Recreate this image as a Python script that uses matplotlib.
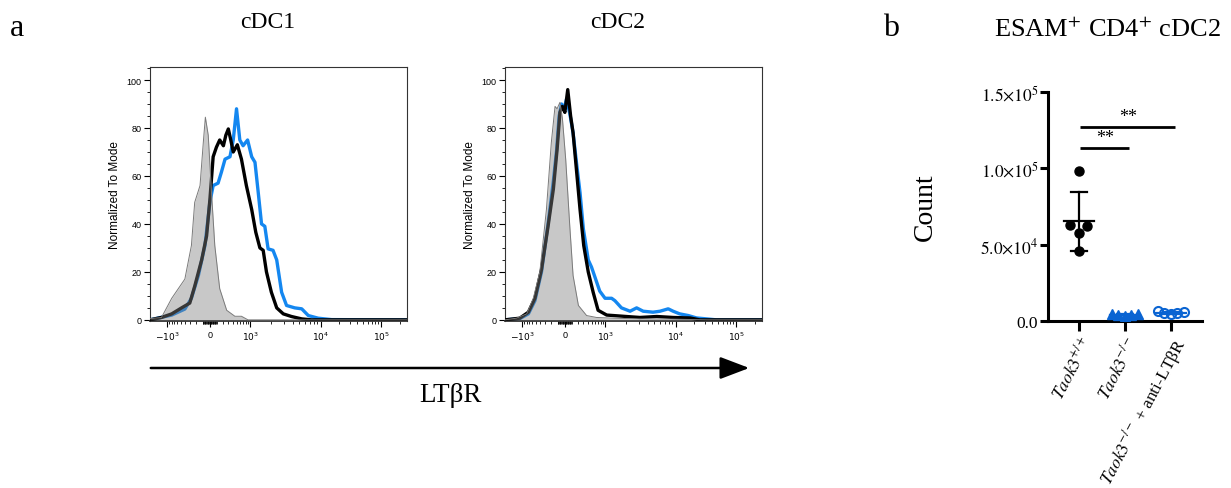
import numpy as np
import matplotlib.pyplot as plt
from matplotlib.patches import FancyArrowPatch
from matplotlib.ticker import MultipleLocator, FixedLocator

plt.rcParams['mathtext.fontset'] = 'stix'
SERIF = 'Liberation Serif'
SANS = 'Liberation Sans'

# ---- panel a: LTbR histograms, x in biexponential display units, y in % of mode
cdc1_iso_x = [-1.46, -1.18, -0.93, -0.77, -0.61, -0.45, -0.37, -0.24, -0.16, -0.11, -0.04,
              0.04, 0.12, 0.24, 0.41, 0.61, 0.77, 0.93, 4.80]
cdc1_iso_y = [0.5, 1, 9, 13, 17, 31, 49, 56, 74, 84.5, 77, 53, 31, 13, 4, 1.5, 1.5, 0, 0]

cdc1_wt_x = [-1.46, -1.18, -0.93, -0.69, -0.49, -0.37, -0.20, -0.08, 0, 0.08, 0.16, 0.24,
             0.33, 0.39, 0.45, 0.51, 0.57, 0.67, 0.77, 0.89, 1.02, 1.12, 1.22, 1.30, 1.38,
             1.50, 1.63, 1.79, 1.99, 2.24, 2.48, 4.80]
cdc1_wt_y = [0, 1, 2.5, 5, 7, 14, 25, 35, 50, 68, 72, 75, 72.6, 77, 79.6, 75, 70, 73, 67,
             56, 46, 36.5, 30, 29, 20, 11.5, 5, 2.5, 1.4, 0.4, 0, 0]

cdc1_ko_x = [-1.46, -0.93, -0.61, -0.45, -0.28, -0.12, 0, 0.08, 0.20, 0.28, 0.37, 0.49,
             0.57, 0.65, 0.73, 0.81, 0.92, 1.02, 1.10, 1.18, 1.26, 1.34, 1.42, 1.54, 1.63,
             1.75, 1.87, 2.07, 2.24, 2.40, 2.64, 2.97, 4.80]
cdc1_ko_y = [0, 2, 4.5, 9, 18.5, 31, 49, 56, 57, 61.5, 67, 68, 75, 88, 75, 72.6, 75, 68,
             65.7, 53, 40, 39, 29.6, 29, 25, 11.5, 6, 5, 4.6, 1.8, 0.7, 0.1, 0]

cdc2_iso_x = [-1.46, -1.18, -0.93, -0.77, -0.61, -0.45, -0.33, -0.24, -0.19, -0.12, -0.06,
              0.02, 0.12, 0.20, 0.33, 0.53, 0.77, 1.18, 1.83, 2.64, 3.46, 4.80]
cdc2_iso_y = [0, 0.7, 2.5, 9, 20, 46, 74, 89, 88, 90.7, 84, 67, 39, 18.5, 6, 1.8, 1, 0.7,
              0.4, 0.3, 0, 0]

cdc2_wt_x = [-1.46, -1.10, -0.89, -0.73, -0.57, -0.41, -0.28, -0.19, -0.12, -0.06, 0, 0.07,
             0.14, 0.20, 0.28, 0.37, 0.46, 0.57, 0.69, 0.81, 1.02, 1.42, 1.83, 2.24, 2.64,
             3.05, 3.29, 4.80]
cdc2_wt_y = [0, 0.7, 3.2, 9, 21, 39, 54.6, 71, 86.5, 89, 86.5, 96, 85, 78, 63, 46, 31, 20,
             11.5, 4, 2, 1.5, 1, 1.4, 1, 0.8, 0, 0]

cdc2_ko_x = [-1.46, -1.10, -0.89, -0.73, -0.57, -0.41, -0.28, -0.20, -0.14, -0.08, -0.02,
             0.04, 0.12, 0.20, 0.28, 0.37, 0.45, 0.57, 0.65, 0.73, 0.85, 0.98, 1.14, 1.22,
             1.38, 1.59, 1.75, 1.91, 2.15, 2.32, 2.52, 2.64, 2.80, 3.01, 3.21, 3.46, 3.70, 4.80]
cdc2_ko_y = [0, 0.5, 2.5, 8, 20, 40, 58, 71, 85, 90, 88, 92, 86, 78, 66, 53, 38, 25, 22,
             18, 12, 9, 9, 8, 5, 3.6, 5, 3.6, 3.2, 3.6, 4.6, 3.6, 2.5, 1.8, 0.8, 0.4, 0, 0]

hist_titles = ['cDC1', 'cDC2']
hist_tick_pos = [-1.05, 0, 0.98, 2.7, 4.18]
hist_tick_lab = [r'$-10^{3}$', '0', r'$10^{3}$', r'$10^{4}$', r'$10^{5}$']

# ---- panel b: ESAM+ CD4+ cDC2 counts
groups = [r'$\mathit{Taok3}^{+/+}$', r'$\mathit{Taok3}^{-/-}$',
          r'$\mathit{Taok3}^{-/-}$ + anti-LTβR']
wt_counts = [98000, 62400, 62700, 57400, 46000]
ko_counts = [3300, 3700, 4000, 4300, 4700]
ko_ab_counts = [4500, 4900, 5300, 5700, 6100]
sig_pairs = [(0, 1), (0, 2)]
sig_heights = [113400, 127400]
sig_labels = ['**', '**']

BLUE_H = '#1487f0'
BLUE_B = '#0a64d2'


def biex(v):
    v = np.asarray(v, float)
    out = np.empty_like(v)
    small = np.abs(v) <= 1000
    s = v[small]
    out[small] = np.arcsinh(s / 300) / np.arcsinh(1000 / 300) * np.where(s < 0, 1.05, 0.98)
    big = v > 1000
    out[big] = np.interp(np.log10(v[big]), [3, 4, 5, 6], [0.98, 2.7, 4.18, 5.66])
    return out


minor_vals = np.concatenate([np.arange(10, 100, 10), np.arange(100, 1000, 100)])
minor_vals = np.concatenate([minor_vals, -minor_vals, np.arange(2000, 10000, 1000),
                             np.arange(20000, 100000, 10000), np.arange(200000, 300000, 100000)])

fig = plt.figure(figsize=(12.31, 4.89), dpi=100)

hist_sets = [(cdc1_iso_x, cdc1_iso_y, cdc1_wt_x, cdc1_wt_y, cdc1_ko_x, cdc1_ko_y),
             (cdc2_iso_x, cdc2_iso_y, cdc2_wt_x, cdc2_wt_y, cdc2_ko_x, cdc2_ko_y)]
title_x = [268, 618]
for i, (ix, iy, wx, wy, kx, ky) in enumerate(hist_sets):
    left = [150, 505][i] / 1231
    ax = fig.add_axes([left, 1 - 322.3 / 489, 256.7 / 1231, 254 / 489])
    ax.plot(kx, ky, color=BLUE_H, lw=2.4, zorder=2)
    ax.plot(wx, wy, color='black', lw=2.4, zorder=3)
    ax.fill_between(ix, iy, 0, color='#808080', alpha=0.43, lw=0, zorder=4)
    ax.plot(ix, iy, color='#7a7a7a', lw=0.7, zorder=5)
    ax.set_xlim(-1.46, 4.80)
    ax.set_xticks(hist_tick_pos)
    ax.set_xticklabels(hist_tick_lab)
    mv = biex(minor_vals)
    ax.xaxis.set_minor_locator(FixedLocator(mv[(mv > -1.46) & (mv < 4.8)]))
    ax.yaxis.set_major_locator(MultipleLocator(20))
    ax.yaxis.set_minor_locator(MultipleLocator(5))
    ax.set_ylim(-0.6, 105.3)
    ax.tick_params(which='major', length=4, width=0.8, labelsize=6.5, pad=2)
    ax.tick_params(which='minor', length=2, width=0.6)
    for lab in ax.get_xticklabels() + ax.get_yticklabels():
        lab.set_fontfamily(SANS)
        lab.set_math_fontfamily('dejavusans')
    for sp in ax.spines.values():
        sp.set_linewidth(0.8)
        sp.set_color('#333333')
    ax.spines['bottom'].set_linewidth(1.3)
    ax.set_ylabel('Normalized To Mode', fontsize=8.5, family=SANS, labelpad=4)
    fig.text(title_x[i] / 1231, 1 - 22 / 489, hist_titles[i], ha='center', va='center',
             fontsize=17, family=SERIF)

arrow = FancyArrowPatch((148 / 1231, 1 - 369 / 489), (752 / 1231, 1 - 369 / 489),
                        transform=fig.transFigure, arrowstyle='-|>,head_length=1.0,head_width=0.38',
                        mutation_scale=18, lw=1.8, color='black')
fig.add_artist(arrow)
fig.text(450 / 1231, 1 - 396 / 489, 'LTβR', ha='center', va='center', fontsize=19.5, family=SERIF)
fig.text(10 / 1231, 1 - 29 / 489, 'a', ha='left', va='center', fontsize=23, family=SERIF)
fig.text(883 / 1231, 1 - 29 / 489, 'b', ha='left', va='center', fontsize=23, family=SERIF)

# ---- panel b
axb = fig.add_axes([1048 / 1231, 1 - 321.7 / 489, 153.7 / 1231, 228.4 / 489])
axb.set_xlim(-0.67, 2.67)
axb.set_ylim(0, 150000)
ypx = 228.4 / 150000
xpx = 46.0


def swarm(vals, step):
    vals = np.asarray(vals, float)
    offs = np.zeros(len(vals))
    placed = []
    for i in np.argsort(vals):
        y = vals[i] * ypx
        for k in [0, 1, -1, 2, -2, 3, -3, 4, -4]:
            x = k * step
            if all(np.hypot(x - px, y - py) >= step - 1e-6 for px, py in placed):
                break
        placed.append((x, y))
        offs[i] = x / xpx
    return offs


styles = [dict(marker='o', color='black', mfc='black', ms=6.5),
          dict(marker='^', color=BLUE_B, mfc=BLUE_B, ms=7),
          dict(marker='o', color=BLUE_B, mfc='none', ms=6.5, mew=1.5)]
steps = [8.5, 6.5, 6.5]
for g, vals in enumerate([wt_counts, ko_counts, ko_ab_counts]):
    vals = np.asarray(vals, float)
    m, sd = vals.mean(), vals.std(ddof=1)
    c = styles[g]['color']
    axb.plot([g - 0.33, g + 0.33], [m, m], color=c, lw=1.6, zorder=2)
    axb.plot([g, g], [m - sd, m + sd], color=c, lw=1.6, zorder=2)
    for yy in (m - sd, m + sd):
        axb.plot([g - 0.17, g + 0.17], [yy, yy], color=c, lw=1.6, zorder=2)
    axb.plot(g + swarm(vals, steps[g]), vals, ls='none', zorder=3, **styles[g])

for (a, b), h, lab in zip(sig_pairs, sig_heights, sig_labels):
    axb.plot([a + 0.03, b + 0.1], [h, h], color='black', lw=2.0, solid_capstyle='butt')
    axb.text((a + b + 0.13) / 2, h + 1200, lab, ha='center', va='bottom', fontsize=13,
             family=SERIF)

axb.set_yticks([0, 50000, 100000, 150000])
axb.set_yticklabels(['0.0', r'$5.0{\times}10^{4}$', r'$1.0{\times}10^{5}$', r'$1.5{\times}10^{5}$'],
                    fontsize=12.5, family=SERIF)
axb.set_xticks([0, 1, 2])
axb.set_xticklabels(groups, rotation=62, ha='right', va='top', rotation_mode='anchor',
                    fontsize=12.5, family=SERIF)
axb.tick_params(axis='y', length=6, width=2.2, pad=1)
axb.tick_params(axis='x', length=7, width=2.2, pad=2)
for sp in ['top', 'right']:
    axb.spines[sp].set_visible(False)
for sp in ['left', 'bottom']:
    axb.spines[sp].set_linewidth(2.2)
axb.set_ylabel('Count', fontsize=20, family=SERIF, labelpad=30)
fig.text(1107 / 1231, 1 - 30 / 489, r'ESAM$^{+}$ CD4$^{+}$ cDC2', ha='center', va='center',
         fontsize=19, family=SERIF)

fig.savefig('out.png', dpi=100)
